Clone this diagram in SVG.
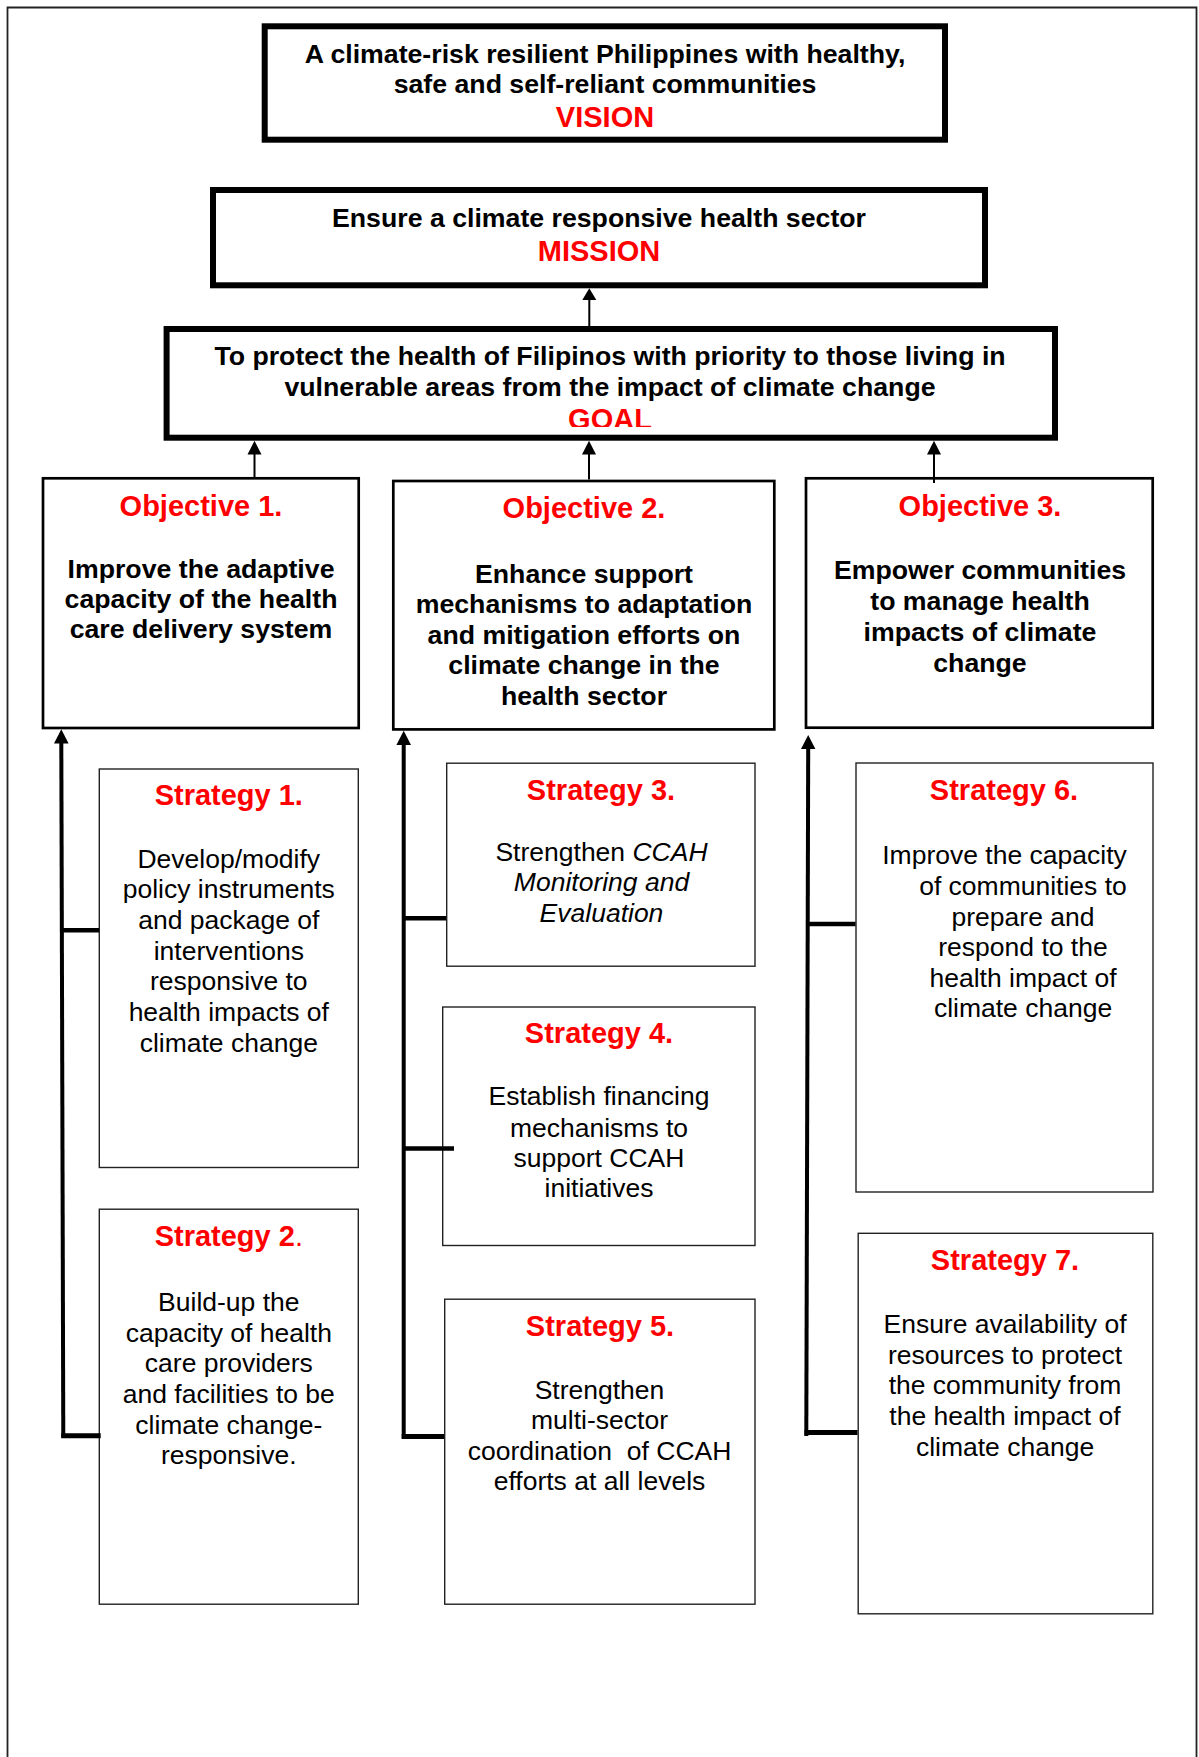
<svg xmlns="http://www.w3.org/2000/svg" width="1199" height="1757" viewBox="0 0 1199 1757">
<style>
text{font-family:"Liberation Sans",Arial,sans-serif;text-anchor:middle;fill:#000}
.b{font-weight:bold;font-size:26.7px}
.n{font-size:26.5px}
.r{font-weight:bold;font-size:29px;fill:#ff0000}
.i{font-style:italic}
.thick{fill:#fff;stroke:#000;stroke-width:6}
.obj{fill:#fff;stroke:#000;stroke-width:2.7}
.str{fill:#fff;stroke:#222;stroke-width:1.4}
.c{stroke:#000;fill:none}
.ah{fill:#000}
</style>
<defs>
<clipPath id="goalclip"><rect x="160" y="330" width="900" height="97"/></clipPath>
</defs>
<rect width="1199" height="1757" fill="#fff"/>
<path d="M7.5,1757 V7.5 H1196.5 V1757" fill="none" stroke="#222" stroke-width="1.8"/>

<g id="vision">
<rect class="thick" x="264.7" y="26.3" width="680.3" height="113.4"/>
<text class="b" x="605" y="62.7">A climate-risk resilient Philippines with healthy,</text>
<text class="b" x="605" y="93.3">safe and self-reliant communities</text>
<text class="r" x="605" y="126.7">VISION</text>
</g>

<g id="mission">
<rect class="thick" x="213" y="190" width="772" height="95.3"/>
<text class="b" x="599" y="226.7">Ensure a climate responsive health sector</text>
<text class="r" x="599" y="260.7">MISSION</text>
</g>

<g id="goal">
<rect class="thick" x="166.6" y="329" width="888.4" height="108.7"/>
<text class="b" x="610" y="365">To protect the health of Filipinos with priority to those living in</text>
<text class="b" x="610" y="395.5">vulnerable areas from the impact of climate change</text>
<text class="r" x="610" y="429" clip-path="url(#goalclip)">GOAL</text>
</g>

<g id="objective1">
<rect class="obj" x="43" y="478.3" width="315.7" height="249.7"/>
<text class="r" x="201" y="516">Objective 1.</text>
<text class="b" x="201" y="577.5">Improve the adaptive</text>
<text class="b" x="201" y="607.5">capacity of the health</text>
<text class="b" x="201" y="637.5">care delivery system</text>
</g>

<g id="objective2">
<rect class="obj" x="393.3" y="481" width="381" height="248.4"/>
<text class="r" x="584" y="517.5">Objective 2.</text>
<text class="b" x="584" y="582.5">Enhance support</text>
<text class="b" x="584" y="613">mechanisms to adaptation</text>
<text class="b" x="584" y="643.5">and mitigation efforts on</text>
<text class="b" x="584" y="674">climate change in the</text>
<text class="b" x="584" y="704.5">health sector</text>
</g>

<g id="objective3">
<rect class="obj" x="806" y="478.3" width="346.7" height="249.4"/>
<text class="r" x="980" y="516">Objective 3.</text>
<text class="b" x="980" y="578.5">Empower communities</text>
<text class="b" x="980" y="609.5">to manage health</text>
<text class="b" x="980" y="640.5">impacts of climate</text>
<text class="b" x="980" y="671.5">change</text>
</g>

<g id="strategy1">
<rect class="str" x="99.3" y="769" width="259" height="398.5"/>
<text class="r" x="228.8" y="805">Strategy 1.</text>
<text class="n" x="228.8" y="867.7">Develop/modify</text>
<text class="n" x="228.8" y="898.3">policy instruments</text>
<text class="n" x="228.8" y="929">and package of</text>
<text class="n" x="228.8" y="959.7">interventions</text>
<text class="n" x="228.8" y="990.3">responsive to</text>
<text class="n" x="228.8" y="1021">health impacts of</text>
<text class="n" x="228.8" y="1051.7">climate change</text>
</g>

<g id="strategy2">
<rect class="str" x="99.3" y="1209.2" width="259" height="395"/>
<text class="r" x="228.8" y="1246.2">Strategy 2<tspan font-weight="normal">.</tspan></text>
<text class="n" x="228.8" y="1310.7">Build-up the</text>
<text class="n" x="228.8" y="1341.5">capacity of health</text>
<text class="n" x="228.8" y="1372.2">care providers</text>
<text class="n" x="228.8" y="1403">and facilities to be</text>
<text class="n" x="228.8" y="1433.7">climate change-</text>
<text class="n" x="228.8" y="1464.4">responsive.</text>
</g>

<g id="strategy3">
<rect class="str" x="446.7" y="763.2" width="308.3" height="203"/>
<text class="r" x="601" y="800">Strategy 3.</text>
<text class="n" x="601.5" y="860.7">Strengthen <tspan class="i">CCAH</tspan></text>
<text class="n i" x="601.5" y="891.3">Monitoring and</text>
<text class="n i" x="601.5" y="922">Evaluation</text>
</g>

<g id="strategy4">
<rect class="str" x="442.7" y="1007" width="312.3" height="238.5"/>
<text class="r" x="599" y="1043.3">Strategy 4.</text>
<text class="n" x="599" y="1105.3">Establish financing</text>
<text class="n" x="599" y="1136.5">mechanisms to</text>
<text class="n" x="599" y="1167.3">support CCAH</text>
<text class="n" x="599" y="1197.3">initiatives</text>
</g>

<g id="strategy5">
<rect class="str" x="444.7" y="1299.2" width="310.3" height="305"/>
<text class="r" x="600" y="1336.4">Strategy 5.</text>
<text class="n" x="599.5" y="1399">Strengthen</text>
<text class="n" x="599.5" y="1429.2">multi-sector</text>
<text class="n" x="599.5" y="1459.7" style="white-space:pre">coordination  of CCAH</text>
<text class="n" x="599.5" y="1490">efforts at all levels</text>
</g>

<g id="strategy6">
<rect class="str" x="856" y="763" width="297" height="429"/>
<text class="r" x="1004" y="800">Strategy 6.</text>
<text class="n" x="1004.5" y="864">Improve the capacity</text>
<text class="n" x="1023" y="895">of communities to</text>
<text class="n" x="1023" y="925.7">prepare and</text>
<text class="n" x="1023" y="956">respond to the</text>
<text class="n" x="1023" y="986.7">health impact of</text>
<text class="n" x="1023" y="1017.3">climate change</text>
</g>

<g id="strategy7">
<rect class="str" x="858.2" y="1233.3" width="294.6" height="380.5"/>
<text class="r" x="1005" y="1270.2">Strategy 7.</text>
<text class="n" x="1005" y="1332.7">Ensure availability of</text>
<text class="n" x="1005" y="1363.5">resources to protect</text>
<text class="n" x="1005" y="1394.3">the community from</text>
<text class="n" x="1005" y="1425">the health impact of</text>
<text class="n" x="1005" y="1455.8">climate change</text>
</g>

<g id="connectors">
<line class="c" x1="589.3" y1="326" x2="589.3" y2="299" stroke-width="2"/>
<polygon class="ah" points="589.3,288.3 582.3,300 596.3,300"/>
<line class="c" x1="254.5" y1="477" x2="254.5" y2="453" stroke-width="2"/>
<polygon class="ah" points="254.5,440.7 247.5,454.5 261.5,454.5"/>
<line class="c" x1="589" y1="479.6" x2="589" y2="453" stroke-width="2"/>
<polygon class="ah" points="589,440.7 582,454.5 596,454.5"/>
<line class="c" x1="934" y1="483" x2="934" y2="453" stroke-width="2"/>
<polygon class="ah" points="934,440.7 927,454.5 941,454.5"/>

<line class="c" x1="61.3" y1="742" x2="63.3" y2="1438" stroke-width="4"/>
<polygon class="ah" points="61.3,729.3 54,743.5 68.6,743.5"/>
<line class="c" x1="62" y1="930.3" x2="99" y2="930.3" stroke-width="4.5"/>
<line class="c" x1="61.3" y1="1435.8" x2="100.7" y2="1435.8" stroke-width="5"/>

<line class="c" x1="403.7" y1="743" x2="403.7" y2="1438.5" stroke-width="4"/>
<polygon class="ah" points="403.7,730.7 396.4,745 411,745"/>
<line class="c" x1="403.7" y1="918.3" x2="446" y2="918.3" stroke-width="4.5"/>
<line class="c" x1="402" y1="1148.5" x2="454" y2="1148.5" stroke-width="4.5"/>
<line class="c" x1="401.7" y1="1436.5" x2="444" y2="1436.5" stroke-width="5"/>

<line class="c" x1="808.2" y1="748" x2="806.3" y2="1436" stroke-width="4"/>
<polygon class="ah" points="808.2,735 801,749 815.4,749"/>
<line class="c" x1="808" y1="924" x2="855.5" y2="924" stroke-width="4.5"/>
<line class="c" x1="804.5" y1="1432.5" x2="857.5" y2="1432.5" stroke-width="5"/>
</g>
</svg>
